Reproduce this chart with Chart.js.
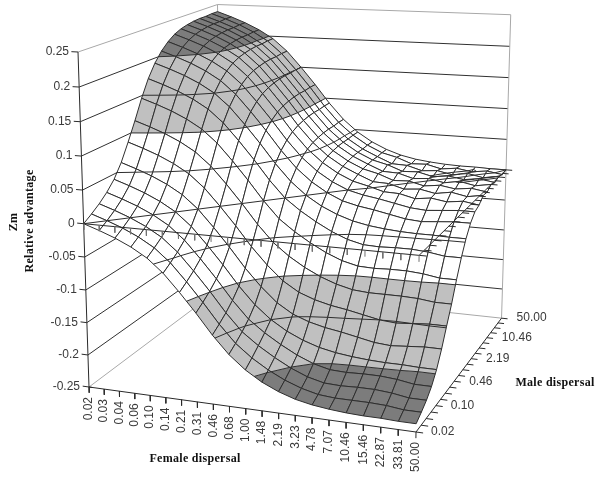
<!DOCTYPE html>
<html>
<head>
<meta charset="utf-8">
<style>
  html, body { margin: 0; padding: 0; background: #fff; }
  canvas { display: block; }
</style>
<script src="https://cdn.jsdelivr.net/npm/chart.js@4"></script>
</head>
<body>
<canvas id="canvas" width="600" height="481"></canvas>
<script>
const femaleTicks = ['0.02','0.03','0.04','0.06','0.10','0.14','0.21','0.31','0.46','0.68','1.00','1.48','2.19','3.23','4.78','7.07','10.46','15.46','22.87','33.81','50.00'];
const maleLabels = ['0.02','0.10','0.46','2.19','10.46','50.00'];
const zTicks = [-0.25,-0.2,-0.15,-0.1,-0.05,0,0.05,0.1,0.15,0.2,0.25];

// one row per male dispersal tick, one value per female dispersal tick
const male00 = [0,-0.008,-0.017,-0.028,-0.042,-0.062,-0.088,-0.116,-0.146,-0.172,-0.192,-0.207,-0.218,-0.226,-0.231,-0.234,-0.236,-0.237,-0.237,-0.238,-0.238];
const male01 = [0.008,0,-0.009,-0.020,-0.034,-0.054,-0.080,-0.108,-0.138,-0.164,-0.183,-0.198,-0.210,-0.219,-0.225,-0.227,-0.227,-0.227,-0.228,-0.231,-0.231];
const male02 = [0.017,0.009,0,-0.011,-0.025,-0.045,-0.071,-0.099,-0.129,-0.155,-0.173,-0.188,-0.201,-0.211,-0.217,-0.218,-0.217,-0.217,-0.219,-0.223,-0.223];
const male03 = [0.028,0.020,0.011,0,-0.014,-0.034,-0.060,-0.088,-0.118,-0.144,-0.162,-0.177,-0.190,-0.200,-0.206,-0.207,-0.206,-0.206,-0.208,-0.212,-0.212];
const male04 = [0.042,0.034,0.025,0.014,0,-0.020,-0.046,-0.074,-0.104,-0.130,-0.150,-0.165,-0.176,-0.184,-0.189,-0.192,-0.194,-0.195,-0.195,-0.196,-0.196];
const male05 = [0.062,0.054,0.045,0.034,0.020,0,-0.026,-0.054,-0.084,-0.110,-0.132,-0.147,-0.156,-0.162,-0.166,-0.171,-0.176,-0.178,-0.176,-0.174,-0.174];
const male06 = [0.088,0.080,0.071,0.060,0.046,0.026,0,-0.028,-0.058,-0.084,-0.106,-0.121,-0.130,-0.136,-0.140,-0.145,-0.150,-0.152,-0.150,-0.148,-0.148];
const male07 = [0.116,0.108,0.099,0.088,0.074,0.054,0.028,0,-0.030,-0.056,-0.075,-0.090,-0.102,-0.111,-0.117,-0.119,-0.119,-0.119,-0.120,-0.123,-0.123];
const male08 = [0.146,0.138,0.129,0.118,0.104,0.084,0.058,0.030,0,-0.026,-0.044,-0.059,-0.072,-0.082,-0.088,-0.089,-0.088,-0.088,-0.090,-0.094,-0.094];
const male09 = [0.172,0.164,0.155,0.144,0.130,0.110,0.084,0.056,0.026,0,-0.018,-0.033,-0.046,-0.056,-0.062,-0.063,-0.062,-0.062,-0.064,-0.068,-0.068];
const male10 = [0.192,0.184,0.175,0.164,0.150,0.130,0.104,0.076,0.046,0.020,0,-0.015,-0.026,-0.034,-0.039,-0.042,-0.044,-0.045,-0.045,-0.046,-0.046];
const male11 = [0.207,0.199,0.190,0.179,0.165,0.145,0.119,0.091,0.061,0.035,0.015,0,-0.011,-0.017,-0.021,-0.026,-0.031,-0.033,-0.031,-0.029,-0.029];
const male12 = [0.218,0.210,0.201,0.190,0.176,0.156,0.130,0.102,0.072,0.046,0.026,0.011,0,-0.006,-0.010,-0.015,-0.020,-0.022,-0.020,-0.018,-0.018];
const male13 = [0.226,0.218,0.209,0.198,0.184,0.164,0.138,0.110,0.080,0.054,0.034,0.019,0.008,0.002,-0.005,-0.006,-0.012,-0.009,-0.013,-0.010,-0.014];
const male14 = [0.231,0.223,0.214,0.203,0.189,0.169,0.143,0.115,0.085,0.059,0.039,0.024,0.013,0.003,0.002,-0.005,-0.003,-0.008,-0.004,-0.009,-0.005];
const male15 = [0.234,0.226,0.217,0.206,0.192,0.172,0.146,0.118,0.088,0.062,0.042,0.027,0.016,0.010,0.001,0.002,-0.004,-0.001,-0.005,-0.002,-0.006];
const male16 = [0.236,0.228,0.219,0.208,0.194,0.174,0.148,0.120,0.090,0.064,0.044,0.029,0.018,0.008,0.007,0,0.002,-0.003,0.001,-0.004,0];
const male17 = [0.237,0.229,0.220,0.209,0.195,0.175,0.149,0.121,0.091,0.065,0.045,0.030,0.019,0.013,0.004,0.005,-0.001,0.002,-0.002,0.001,-0.003];
const male18 = [0.237,0.229,0.220,0.209,0.195,0.175,0.149,0.121,0.091,0.065,0.045,0.030,0.019,0.009,0.008,0.001,0.003,-0.002,0.002,-0.003,0.001];
const male19 = [0.238,0.230,0.221,0.210,0.196,0.176,0.150,0.122,0.092,0.066,0.046,0.031,0.020,0.014,0.005,0.006,0,0.003,-0.001,0.002,-0.002];
const male20 = [0.238,0.230,0.221,0.210,0.196,0.176,0.150,0.122,0.092,0.066,0.046,0.031,0.020,0.012,0.007,0.004,0.002,0.001,0.001,0,0];
const surface = [male00,male01,male02,male03,male04,male05,male06,male07,male08,male09,male10,male11,male12,male13,male14,male15,male16,male17,male18,male19,male20];

const N = 20;
const zMin = -0.25, zMax = 0.25;
const bands = [[-0.25,-0.2,'#7c7c7c'],[-0.2,-0.1,'#c0c0c0'],[-0.1,0.1,'#ffffff'],[0.1,0.2,'#c0c0c0'],[0.2,0.25,'#7c7c7c']];
const meshColor = '#2e2e2e';

// perspective box: three edges from the front-left floor corner plus a weight per axis
const origin = [89,387], ends = [[416,432],[221,288],[78,52]], weights = [0.92,1.19,0.951];
function project(u, v, w) {
  let den = 1 + (weights[0]-1)*u + (weights[1]-1)*v + (weights[2]-1)*w;
  let out = [0,1].map(k => (origin[k]
    + u*(weights[0]*ends[0][k]-origin[k])
    + v*(weights[1]*ends[1][k]-origin[k])
    + w*(weights[2]*ends[2][k]-origin[k])) / den);
  return {x: out[0], y: out[1]};
}
const heightOf = z => (z - zMin) / (zMax - zMin);
const toScreen = p => project(p[0]/N, p[1]/N, heightOf(p[2]));

let datasets = [];   // pushed back to front, reversed at the end
function addLine(points, color) {
  datasets.push({data: points, showLine: true, pointRadius: 0, borderWidth: 1, borderColor: color, fill: false});
}
function addShape(points, color) {
  datasets.push({data: points.concat([points[0]]), showLine: true, pointRadius: 0,
    borderWidth: 0, borderColor: color, backgroundColor: color, fill: 'shape'});
}

// cut polygon of [i,j,z] at a height, keeping one side
function clip(poly, level, keepAbove) {
  let out = [];
  poly.forEach((a, k) => {
    let b = poly[(k+1) % poly.length];
    let aIn = keepAbove ? a[2] >= level : a[2] <= level;
    let bIn = keepAbove ? b[2] >= level : b[2] <= level;
    if (aIn) out.push(a);
    if (aIn !== bIn) {
      let t = (level-a[2]) / (b[2]-a[2]);
      out.push([a[0]+t*(b[0]-a[0]), a[1]+t*(b[1]-a[1]), level]);
    }
  });
  return out;
}

// walls
zTicks.forEach((z, k) => {
  let w = heightOf(z);
  let edge = k === 0 || k === zTicks.length-1;
  let color = edge ? '#a8a8a8' : '#303030';
  addLine([project(0,0,w), project(0,1,w)], color);
  addLine([project(0,1,w), project(1,1,w)], color);
});
addLine([project(0,1,0), project(0,1,1)], '#a8a8a8');
addLine([project(1,1,0), project(1,1,1)], '#a8a8a8');

// surface, far corner first
for (let j = N-1; j >= 0; j--) {
  for (let i = 0; i < N; i++) {
    let quad = [[i,j,surface[j][i]], [i+1,j,surface[j][i+1]], [i+1,j+1,surface[j+1][i+1]], [i,j+1,surface[j+1][i]]];
    bands.forEach(b => {
      let part = clip(clip(quad, b[0], true), b[1], false);
      if (part.length > 2) addShape(part.map(toScreen), b[2]);
    });
    zTicks.forEach(level => {
      let cuts = [];
      quad.forEach((a, k) => {
        let c = quad[(k+1) % 4];
        if ((a[2] < level) !== (c[2] < level)) {
          let t = (level-a[2]) / (c[2]-a[2]);
          cuts.push([a[0]+t*(c[0]-a[0]), a[1]+t*(c[1]-a[1]), level]);
        }
      });
      for (let k = 0; k+1 < cuts.length; k += 2) addLine([toScreen(cuts[k]), toScreen(cuts[k+1])], meshColor);
    });
    addLine(quad.concat([quad[0]]).map(toScreen), meshColor);
  }
}

// axes on top, on the floor and again at zero height
const axisColor = '#2a2a2a', zeroTickColor = '#707070';
addLine([project(0,0,0), project(0,0,1)], axisColor);
[0, 0.5].forEach(w => {
  addLine([project(0,0,w), project(1,0,w)], axisColor);
  addLine([project(1,0,w), project(1,1,w)], axisColor);
  for (let i = 0; i <= N; i++) {
    addLine([project(i/N,0,w), project(i/N,0,w-0.018)], w ? zeroTickColor : axisColor);
    addLine([project(1,i/N,w), project(1.02,i/N,w)], axisColor);
  }
});
zTicks.forEach(z => addLine([project(-0.021,0,heightOf(z)), project(0,0,heightOf(z))], axisColor));
addLine([project(0,0,0), project(0.012,0,0)], axisColor);

datasets.reverse();

const labelPlugin = {
  id: 'labels',
  afterDraw(chart) {
    let ctx = chart.ctx;
    ctx.save();
    ctx.fillStyle = '#3a3a3a';
    ctx.font = '12px "Liberation Sans"';
    ctx.textBaseline = 'middle';
    ctx.textAlign = 'right';
    zTicks.forEach(z => {
      let p = project(0,0,heightOf(z));
      ctx.fillText(String(z), p.x-9, p.y);
    });
    ctx.textAlign = 'left';
    maleLabels.forEach((t, k) => {
      let p = project(1,k*4/N,0);
      ctx.fillText(t, p.x+15, p.y);
    });
    femaleTicks.forEach((t, k) => {
      let p = project(k/N,0,0);
      ctx.save();
      ctx.translate(p.x, p.y+10);
      ctx.rotate(-Math.PI/2);
      ctx.textAlign = 'right';
      ctx.fillText(t, 0, 0);
      ctx.restore();
    });
    ctx.fillStyle = '#111';
    ctx.font = 'bold 12px "Liberation Serif"';
    ctx.letterSpacing = '0.3px';
    ctx.textAlign = 'center';
    ctx.fillText('Female dispersal', 195, 459);
    ctx.fillText('Male dispersal', 555, 383);
    ctx.save();
    ctx.translate(14, 222);
    ctx.rotate(-Math.PI/2);
    ctx.fillText('Zm', 0, 0);
    ctx.restore();
    ctx.save();
    ctx.translate(30, 221);
    ctx.rotate(-Math.PI/2);
    ctx.fillText('Relative advantage', 0, 0);
    ctx.restore();
    ctx.restore();
  }
};

new Chart(document.getElementById('canvas').getContext('2d'), {
  type: 'scatter',
  data: {datasets: datasets},
  options: {
    responsive: false,
    animation: false,
    layout: {padding: 0},
    events: [],
    plugins: {legend: {display: false}, tooltip: {enabled: false}},
    scales: {
      x: {type: 'linear', min: 0, max: 600, display: false},
      y: {type: 'linear', min: 0, max: 481, reverse: true, display: false}
    }
  },
  plugins: [labelPlugin]
});
</script>
</body>
</html>
